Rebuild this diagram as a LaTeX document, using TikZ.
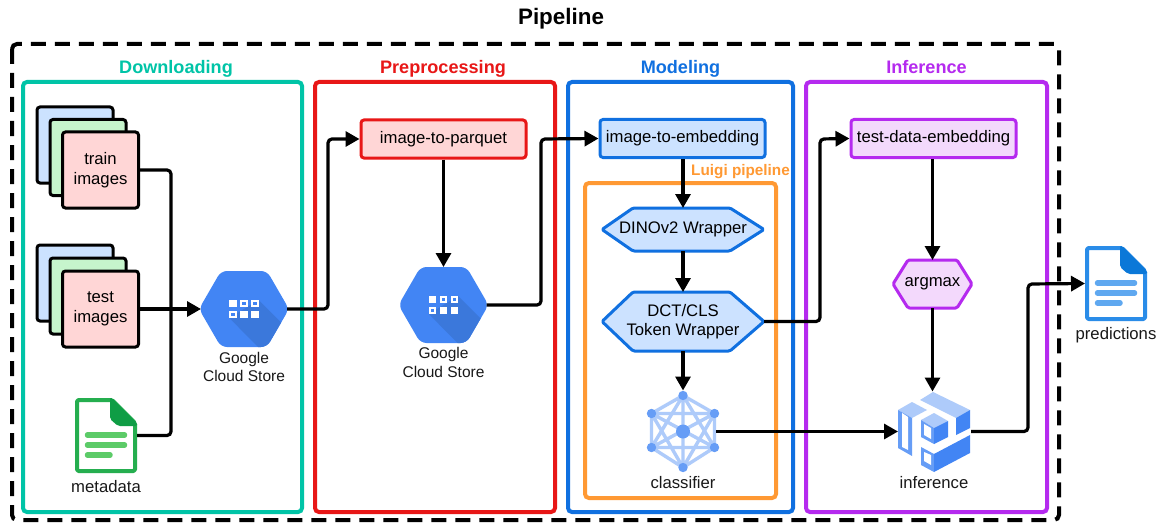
\documentclass[tikz,border=0pt]{standalone}
\usepackage{fontspec}
\setmainfont{Liberation Sans}
\usetikzlibrary{arrows.meta}
\definecolor{tealc}{HTML}{00C4A7}
\definecolor{redc}{HTML}{E81717}
\definecolor{bluec}{HTML}{1070E0}
\definecolor{purc}{HTML}{B52AEF}
\definecolor{orac}{HTML}{FF9933}
\definecolor{redf}{HTML}{FFD6D6}
\definecolor{bluef}{HTML}{CCE2FF}
\definecolor{greenf}{HTML}{C6F5CC}
\definecolor{purf}{HTML}{F3D9FC}
\definecolor{gblue}{HTML}{4285F4}
\definecolor{gdark}{HTML}{3B78DB}
\definecolor{gmid}{HTML}{669DF6}
\definecolor{glight}{HTML}{AECBFA}
\definecolor{dgreen}{HTML}{25AE4F}
\definecolor{ddgreen}{HTML}{0F9D45}
\definecolor{lgreen}{HTML}{5CCB68}
\definecolor{dblue}{HTML}{2A8CE8}
\definecolor{ddblue}{HTML}{0B78D8}
\definecolor{lblue}{HTML}{5FA8F0}
\tikzset{
  frame/.style={draw=#1,line width=4pt,rounded corners=4pt,fill=none},
  head/.style={font=\fontsize{18.1}{20}\selectfont\bfseries,text=#1,inner sep=0pt,anchor=base},
  small/.style={font=\fontsize{16.7}{18.5}\selectfont,align=center,inner sep=0pt,text=black!90},
  gcslab/.style={font=\fontsize{15.5}{18.5}\selectfont,align=center,inner sep=0pt,text=black!90},
  boxn/.style={draw=#1,line width=3pt,rounded corners=3pt,inner sep=0pt,minimum width=165pt,minimum height=38pt,align=center,font=\fontsize{16.7}{19.5}\selectfont},
  card/.style={draw=black,line width=3pt,rounded corners=3pt,inner sep=0pt,minimum width=76pt,minimum height=76pt,align=center,font=\fontsize{16.7}{19.5}\selectfont},
  ghost/.style={inner sep=0pt,outer sep=0pt,draw=none,align=center,font=\fontsize{16.7}{19.5}\selectfont},
  conn/.style={draw=black,line width=3.2pt,rounded corners=4pt,-{Triangle[length=14pt,width=15pt]}},
  plain/.style={draw=black,line width=3.2pt,rounded corners=4pt},
  hexa/.style={draw=#1,line width=3pt,line join=round,rounded corners=1.5pt},
}
\newcommand{\gcs}[1]{%
 \begin{scope}[shift={(#1)}]
  \fill[gblue,rounded corners=6pt] (-45,0)--(-23,-38)--(23,-38)--(45,0)--(23,38)--(-23,38)--cycle;
  \begin{scope}
   \clip[rounded corners=6pt] (-45,0)--(-23,-38)--(23,-38)--(45,0)--(23,38)--(-23,38)--cycle;
   \fill[gdark] (-14.7,9)--(14.7,-9)--(70,46.3)--(40,64)--cycle;
  \end{scope}
  \foreach \x/\y in {-14.7/-9,-3.7/1.7,7.3/1.7} {\fill[white] (\x,\y) rectangle ++(7.4,7.4);}
  \foreach \x/\y in {-3.7/-9,7.3/-9,-14.7/1.7} {\fill[white] (\x,\y) rectangle ++(7.4,7.4);\fill[gblue] (\x+2,\y+2) rectangle ++(3.4,3.4);}
 \end{scope}}
\newcommand{\docicon}[4]{%
 \begin{scope}[shift={(#1)}]
  \fill[white] (0,0)--(38,0)--(62,24)--(62,75)--(0,75)--cycle;
  \draw[#2,line width=4pt,line join=round,rounded corners=1.5pt] (2,2)--(37,2)--(60,25)--(60,73)--(2,73)--cycle;
  \fill[#3,rounded corners=2pt] (35,0)--(37,0)--(62,25)--(62,28)--(43,28)--(35,21)--cycle;
  \draw[#4,line width=5.5pt,line cap=round] (12.5,37)--(49.5,37) (12.5,47)--(49.5,47);
  \draw[#4,line width=5.5pt,line cap=round] (12.5,57)--(35,57);
 \end{scope}}
\begin{document}
\begin{tikzpicture}[x=1pt,y=-1pt]
\useasboundingbox (0,0) rectangle (1161,524);
\fill[white] (0,0) rectangle (1161,524);
% title
\node[inner sep=0pt,font=\fontsize{22.4}{24}\selectfont\bfseries] (title) at (561,18.5) {Pipeline};
% frames
\draw[line width=4pt,rounded corners=5pt,dash pattern=on 15pt off 9pt] (12,44) rectangle (1059,520);
\node[frame=tealc,minimum width=279pt,minimum height=430pt,inner sep=0pt] (fdown) at (162.5,297) {};
\node[frame=redc,minimum width=240pt,minimum height=430pt,inner sep=0pt] (fpre) at (435,297) {};
\node[frame=bluec,minimum width=225pt,minimum height=430pt,inner sep=0pt] (fmod) at (680.5,297) {};
\node[frame=purc,minimum width=241pt,minimum height=430pt,inner sep=0pt] (finf) at (926.5,297) {};
\node[frame=orac,minimum width=191pt,minimum height=315pt,inner sep=0pt] (fluigi) at (680.5,340.5) {};
\node[head=tealc] (hdown) at (176,74) {Downloading};
\node[head=redc] (hpre) at (443,74) {Preprocessing};
\node[head=bluec] (hmod) at (680.5,74) {Modeling};
\node[head=purc] (hinf) at (926.5,74) {Inference};
\node[inner sep=0pt,font=\fontsize{15.3}{17}\selectfont\bfseries,text=orac] (hluigi) at (740.5,172) {Luigi pipeline};
% stacks
\node[card,fill=bluef] (tr1) at (75,145) {};
\node[card,fill=greenf] (tr2) at (88,157.5) {};
\node[card,fill=redf] (train) at (100.5,170) {train\\images};
\node[card,fill=bluef] (te1) at (75,283) {};
\node[card,fill=greenf] (te2) at (88,296) {};
\node[card,fill=redf] (test) at (100.5,309) {test\\images};
% metadata
\docicon{75,398}{dgreen}{ddgreen}{lgreen}
\node[ghost,minimum width=62pt,minimum height=75pt] (meta) at (106,435.5) {};
\node[small] (metal) at (106,487) {metadata};
% gcs 1
\gcs{244,309}
\node[ghost,minimum width=86pt,minimum height=76pt] (gcsa) at (244,309) {};
\node[gcslab] (gcsal) at (244,367) {Google\\Cloud Store};
% preprocess
\node[boxn=redc,fill=redf] (i2p) at (443.5,139) {image-to-parquet};
\gcs{443.5,305}
\node[ghost,minimum width=86pt,minimum height=76pt] (gcsb) at (443.5,305) {};
\node[gcslab] (gcsbl) at (443.5,362.5) {Google\\Cloud Store};
% modeling
\node[boxn=bluec,fill=bluef] (i2e) at (682.5,138.5) {image-to-embedding};
\filldraw[hexa=bluec,fill=bluef] (602,229.5)--(633,208)--(730,208)--(764,229.5)--(730,251)--(633,251)--cycle;
\node[ghost,minimum width=162pt,minimum height=43pt] (dino) at (683,229.5) {DINOv2 Wrapper};
\filldraw[hexa=bluec,fill=bluef] (602,321.5)--(633,292)--(730,292)--(764,321.5)--(730,351)--(633,351)--cycle;
\node[ghost,minimum width=162pt,minimum height=59pt] (dct) at (683,321.5) {DCT/CLS\\Token Wrapper};
% classifier
\begin{scope}[shift={(683,431.5)}]
 \coordinate (c0) at (0,0);
 \coordinate (c1) at (0,-36);
 \coordinate (c2) at (31.5,-18);
 \coordinate (c3) at (31.5,16);
 \coordinate (c4) at (0,36);
 \coordinate (c5) at (-31.5,16);
 \coordinate (c6) at (-31.5,-18);
 \draw[glight,line width=3.4pt] (c1)--(c2)--(c3)--(c4)--(c5)--(c6)--cycle
   (c1)--(c4) (c1)--(c3) (c1)--(c5) (c2)--(c4) (c2)--(c5) (c2)--(c6) (c3)--(c5) (c3)--(c6) (c4)--(c6);
 \foreach \p in {c1,c2,c3,c4,c5,c6} {\fill[gmid] (\p) circle (4.7);}
 \fill[gmid] (c0) circle (7);
\end{scope}
\node[ghost,minimum width=66pt,minimum height=82pt] (clf) at (683,431.5) {};
\node[small] (clfl) at (683,483) {classifier};
% inference
\node[boxn=purc,fill=purf] (tde) at (933.5,138.5) {test-data-embedding};
\filldraw[hexa=purc,fill=purf] (893,284)--(908,260)--(957,260)--(972,284)--(957,308)--(908,308)--cycle;
\node[ghost,minimum width=79pt,minimum height=48pt] (amax) at (932.5,284) {argmax};
% inference icon
\fill[glight] (933,392)--(970,410)--(956,418)--(920,400)--cycle;
\fill[gblue] (970,410)--(970,428)--(956,435)--(956,418)--cycle;
\fill[glight] (934,413)--(948,421)--(934,428)--(921,420)--cycle;
\fill[gmid] (921,420)--(934,428)--(934,444)--(921,437)--cycle;
\fill[white] (924,424)--(931,428)--(931,439)--(924,435)--cycle;
\fill[gblue] (934,428)--(948,421)--(948,437)--(934,444)--cycle;
\fill[glight] (912,402)--(927,410)--(912,418)--(898,410)--cycle;
\fill[gmid] (898,410)--(912,418)--(912,456)--(898,448)--cycle;
\fill[white] (902,413)--(908,417)--(908,450)--(902,447)--cycle;
\fill[gmid] (921,447)--(934,454)--(934,472)--(921,465)--cycle;
\fill[white] (924,452)--(931,455)--(931,465)--(924,461)--cycle;
\fill[gblue] (970,435)--(970,453)--(934,472)--(934,454)--cycle;
\node[ghost,minimum width=73pt,minimum height=80pt] (infer) at (934.5,431.5) {};
\node[small] (inferl) at (934,483) {inference};
% predictions
\docicon{1085,246}{dblue}{ddblue}{lblue}
\node[ghost,minimum width=62pt,minimum height=75pt] (pred) at (1116,283.5) {};
\node[small] (predl) at (1116,335) {predictions};
% connectors
\coordinate (jn) at (171,309);
\draw[plain] (train.east) -- (171,170) -- (jn);
\draw[plain] (meta.east) -- (171,435.5) -- (jn);
\draw[conn] (test.east) -- (gcsa.west);
\draw[conn] (gcsa.east) -- (328,309) -- (328,139) -- (i2p.west);
\draw[conn] (i2p.south) -- (gcsb.north);
\draw[conn] (gcsb.east) -- (541,305) -- (541,139) -- (i2e.west);
\draw[conn] (i2e.south -| dino.north) -- (dino.north);
\draw[conn] (dino.south) -- (dct.north);
\draw[conn] (dct.south) -- (clf.north);
\draw[conn] (dct.east) -- (820,321.5) -- (820,139) -- (tde.west);
\draw[conn] (tde.south -| amax.north) -- (amax.north);
\draw[conn] (amax.south) -- (infer.north -| amax.south);
\draw[conn] (clf.east) -- (infer.west);
\draw[conn] (infer.east) -- (1028,431.5) -- (1028,284) -- (pred.west);
\end{tikzpicture}
\end{document}
